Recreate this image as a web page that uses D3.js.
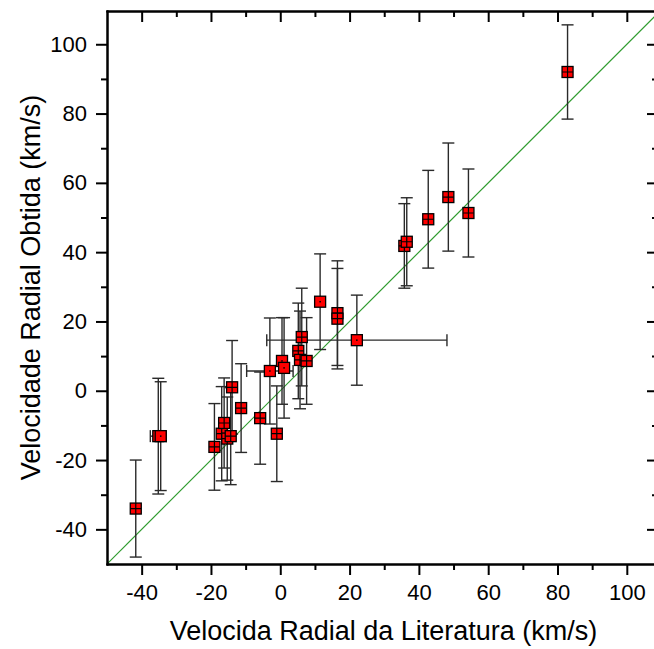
<!DOCTYPE html>
<html>
<head>
<meta charset="utf-8">
<script src="https://cdn.jsdelivr.net/npm/d3@7"></script>
<style>
	body { margin: 0; background: #fff; }
	svg { display: block; }
	text { font-family: "Liberation Sans", Arial, sans-serif; fill: #000; }
</style>
</head>
<body>
<svg id="chart" width="654" height="649"></svg>
<script>
// literature radial velocity (x), obtained radial velocity (y), errors, km/s
const litVel = [-41.7, -35.2, -34.5, -19.0, -16.9, -16.2, -15.3, -14.3, -13.9, -11.3,
	-5.8, -3.0, -1.0, 0.5, 1.1, 5.2, 5.7, 6.2, 7.6, 11.5,
	16.5, 16.5, 22.1, 35.8, 36.5, 42.7, 48.5, 54.3, 82.9];
const obtVel = [-34.0, -13.1, -13.1, -16.2, -12.4, -9.3, -13.8, -13.1, 1.0, -5.0,
	-7.9, 5.7, -12.4, 8.6, 6.6, 11.5, 8.9, 15.5, 8.6, 25.7,
	22.4, 20.8, 14.6, 41.8, 43.0, 49.5, 55.9, 51.3, 92.0];
const obtErr = [14.0, 16.7, 15.7, 12.5, 13.6, 13.0, 12.0, 14.0, 13.5, 12.8,
	13.3, 15.3, 13.8, 12.5, 14.5, 13.8, 14.1, 14.1, 12.5, 13.8,
	15.1, 14.5, 13.0, 12.2, 12.7, 14.1, 15.6, 12.7, 13.6];
const litErr = [0, 2.3, 0, 0, 0, 0, 0, 0, 0, 0,
	0, 6.7, 0, 0, 0, 0, 0, 0, 0, 0,
	0, 0, 26.0, 0, 0, 0, 0, 0, 0];

const majorTicks = [-40, -20, 0, 20, 40, 60, 80, 100];
const minorTicks = [-30, -10, 10, 30, 50, 70, 90];

// markers drawn with an inner cross (the rest only show a centre dot)
const plainMarkers = [1, 2, 11, 13, 14, 19, 22];

let svg = d3.select('#chart');
let pLeft = 107, pTop = 11, pRight = 658, pBottom = 564;

let x = d3.scaleLinear().domain([-50, 109]).range([pLeft, pRight]);
let y = d3.scaleLinear().domain([-50, 109.6]).range([pBottom, pTop]);

let points = litVel.map((v, i) => ({
	x: v, y: obtVel[i], ey: obtErr[i], ex: litErr[i], index: i
}));

svg.append('clipPath').attr('id', 'clip')
	.append('rect')
	.attr('x', pLeft).attr('y', pTop)
	.attr('width', pRight - pLeft).attr('height', pBottom - pTop);

let plot = svg.append('g').attr('clip-path', 'url(#clip)');

// y = x reference line
plot.append('line')
	.attr('x1', x(-50)).attr('y1', y(-50))
	.attr('x2', x(109.6)).attr('y2', y(109.6))
	.attr('stroke', '#2f9c2f')
	.attr('stroke-width', 1.2);

// error bars
let bars = plot.append('g')
	.attr('stroke', '#2a2a2a')
	.attr('stroke-width', 1.4)
	.attr('fill', 'none');

let cap = 6;
points.forEach((d) => {
	let cx = x(d.x), cy = y(d.y);
	bars.append('line')
		.attr('x1', cx).attr('x2', cx)
		.attr('y1', y(d.y + d.ey)).attr('y2', y(d.y - d.ey));
	bars.append('line')
		.attr('x1', cx - cap).attr('x2', cx + cap)
		.attr('y1', y(d.y + d.ey)).attr('y2', y(d.y + d.ey));
	bars.append('line')
		.attr('x1', cx - cap).attr('x2', cx + cap)
		.attr('y1', y(d.y - d.ey)).attr('y2', y(d.y - d.ey));
	if (d.ex) {
		bars.append('line')
			.attr('x1', x(d.x - d.ex)).attr('x2', x(d.x + d.ex))
			.attr('y1', cy).attr('y2', cy);
		[d.x - d.ex, d.x + d.ex].forEach((e) => {
			bars.append('line')
				.attr('x1', x(e)).attr('x2', x(e))
				.attr('y1', cy - cap).attr('y2', cy + cap);
		});
	}
});

// markers
let size = 11;
let marks = plot.selectAll('g.mark')
	.data(points)
	.enter()
	.append('g')
	.attr('class', 'mark')
	.attr('transform', d => 'translate(' + x(d.x) + ',' + y(d.y) + ')');

marks.append('rect')
	.attr('x', -size / 2).attr('y', -size / 2)
	.attr('width', size).attr('height', size)
	.attr('fill', '#ff0000')
	.attr('stroke', '#000')
	.attr('stroke-width', 1.3);

marks.filter(d => plainMarkers.indexOf(d.index) < 0)
	.append('path')
	.attr('d', 'M0,' + (-size / 2) + 'V' + (size / 2) + 'M' + (-size / 2) + ',0H' + (size / 2))
	.attr('stroke', '#000')
	.attr('stroke-width', 1.2);

marks.filter(d => plainMarkers.indexOf(d.index) >= 0)
	.append('rect')
	.attr('x', -0.75).attr('y', -0.75)
	.attr('width', 1.5).attr('height', 1.5)
	.attr('fill', '#000');

// axes
function styleAxis(g) {
	g.selectAll('path.domain').attr('stroke-width', 2).attr('stroke-linecap', 'square');
	g.selectAll('.tick line').attr('stroke-width', 2);
	g.selectAll('.tick text').style('font-size', '22px')
		.style('font-family', '"Liberation Sans", Arial, sans-serif');
}

let fmt = d => String(d);

// bottom
svg.append('g')
	.attr('transform', 'translate(0,' + pBottom + ')')
	.call(d3.axisBottom(x).tickValues(majorTicks).tickFormat(fmt)
		.tickSize(11).tickSizeOuter(0).tickPadding(9))
	.call(styleAxis);
svg.append('g')
	.attr('transform', 'translate(0,' + pBottom + ')')
	.call(d3.axisBottom(x).tickValues(minorTicks).tickFormat('')
		.tickSize(6).tickSizeOuter(0))
	.call(styleAxis);

// top (inward ticks)
svg.append('g')
	.attr('transform', 'translate(0,' + pTop + ')')
	.call(d3.axisBottom(x).tickValues(majorTicks).tickFormat('')
		.tickSize(11).tickSizeOuter(0))
	.call(styleAxis);
svg.append('g')
	.attr('transform', 'translate(0,' + pTop + ')')
	.call(d3.axisBottom(x).tickValues(minorTicks).tickFormat('')
		.tickSize(6).tickSizeOuter(0))
	.call(styleAxis);

// left
svg.append('g')
	.attr('transform', 'translate(' + pLeft + ',0)')
	.call(d3.axisLeft(y).tickValues(majorTicks).tickFormat(fmt)
		.tickSize(11).tickSizeOuter(0).tickPadding(9))
	.call(styleAxis);
svg.append('g')
	.attr('transform', 'translate(' + pLeft + ',0)')
	.call(d3.axisLeft(y).tickValues(minorTicks).tickFormat('')
		.tickSize(6).tickSizeOuter(0))
	.call(styleAxis);

// right (inward ticks, mostly outside the picture)
svg.append('g')
	.attr('transform', 'translate(' + pRight + ',0)')
	.call(d3.axisLeft(y).tickValues(majorTicks).tickFormat('')
		.tickSize(11).tickSizeOuter(0))
	.call(styleAxis);
svg.append('g')
	.attr('transform', 'translate(' + pRight + ',0)')
	.call(d3.axisLeft(y).tickValues(minorTicks).tickFormat('')
		.tickSize(6).tickSizeOuter(0))
	.call(styleAxis);

// titles
svg.append('text')
	.attr('x', (pLeft + pRight) / 2 + 1)
	.attr('y', 640)
	.attr('text-anchor', 'middle')
	.style('font-size', '27px')
	.text('Velocida Radial da Literatura (km/s)');

svg.append('text')
	.attr('transform', 'translate(40,' + ((pTop + pBottom) / 2) + ') rotate(-90)')
	.attr('text-anchor', 'middle')
	.style('font-size', '27px')
	.text('Velocidade Radial Obtida (km/s)');
</script>
</body>
</html>
